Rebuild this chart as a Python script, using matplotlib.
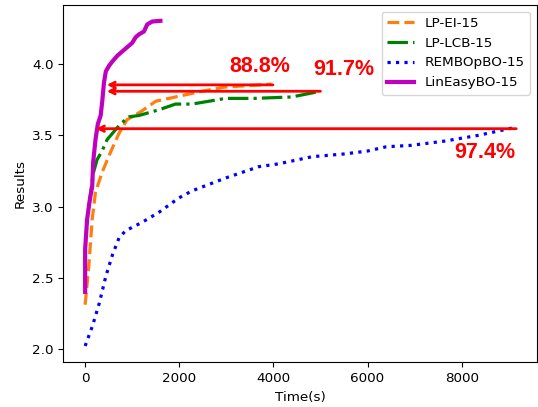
import matplotlib.pyplot as plt

# LP-EI-15
ei_t = [0, 78, 150, 220, 360, 537, 713, 890, 1200, 1500, 1920, 2480, 2980, 3500, 3960]
ei_y = [2.31, 2.58, 2.91, 3.10, 3.24, 3.38, 3.51, 3.61, 3.67, 3.74, 3.77, 3.81, 3.84, 3.85, 3.86]

# LP-LCB-15
lcb_t = [80, 170, 254, 360, 466, 750, 930, 1145, 1570, 1920, 2270, 2630, 2980, 3600, 4390, 5000]
lcb_y = [3.00, 3.23, 3.33, 3.39, 3.47, 3.58, 3.63, 3.64, 3.68, 3.72, 3.72, 3.74, 3.76, 3.76, 3.77, 3.81]

# REMBOpBO-15
rembo_t = [0, 155, 300, 440, 580, 720, 860, 1215, 1570, 1990, 2270, 2980, 3690, 4110, 4820,
           5520, 6000, 6400, 6930, 7640, 8350, 9050, 9160]
rembo_y = [2.02, 2.16, 2.32, 2.51, 2.66, 2.78, 2.83, 2.89, 2.96, 3.06, 3.11, 3.20, 3.28, 3.30, 3.35,
           3.37, 3.39, 3.42, 3.43, 3.46, 3.50, 3.55, 3.55]

# LinEasyBO-15
lin_t = [0, 0, 42, 100, 150, 170, 220, 270, 330, 367, 400, 440, 510, 580, 685, 790, 930, 1000,
         1075, 1145, 1250, 1320, 1425, 1600]
lin_y = [2.40, 2.70, 2.91, 3.05, 3.14, 3.31, 3.47, 3.58, 3.64, 3.75, 3.87, 3.95, 3.99, 4.02, 4.06,
         4.09, 4.13, 4.15, 4.19, 4.21, 4.23, 4.28, 4.30, 4.305]

# speed-up arrows and their labels
arrow_y = [3.855, 3.81, 3.547]
arrow_from = [3990, 5000, 9160]
arrow_to = [460, 460, 230]
labels = ["88.8%", "91.7%", "97.4%"]
label_x = [3720, 5490, 8490]
label_y = [3.985, 3.96, 3.38]

plt.rcParams["font.size"] = 9.7

fig = plt.figure(figsize=(5.38, 4.07), dpi=100)
ax = fig.add_axes([0.118, 0.110, 0.880, 0.878])

ax.plot(ei_t, ei_y, "--", color="#ff7f0e", lw=2.3, label="LP-EI-15")
ax.plot(lcb_t, lcb_y, "-.", color="green", lw=2.3, label="LP-LCB-15")
ax.plot(rembo_t, rembo_y, ":", color="blue", lw=2.3, label="REMBOpBO-15")
ax.plot(lin_t, lin_y, "-", color="m", lw=3, label="LinEasyBO-15")

for yv, x0, x1 in zip(arrow_y, arrow_from, arrow_to):
    ax.annotate("", xy=(x1, yv), xytext=(x0, yv),
                arrowprops=dict(arrowstyle="->", color="red", lw=2,
                                shrinkA=0, shrinkB=0))

for txt, lx, ly in zip(labels, label_x, label_y):
    ax.text(lx, ly, txt, color="red", fontsize=15.5, fontweight="bold",
            family="Liberation Sans", ha="center", va="center")

ax.set_xlim(-460, 9600)
ax.set_ylim(1.906, 4.417)
ax.set_xticks([0, 2000, 4000, 6000, 8000])
ax.set_yticks([2.0, 2.5, 3.0, 3.5, 4.0])
ax.set_xlabel("Time(s)")
ax.set_ylabel("Results")
ax.legend(loc="upper right")

plt.savefig("out.png", dpi=100)
plt.close()
